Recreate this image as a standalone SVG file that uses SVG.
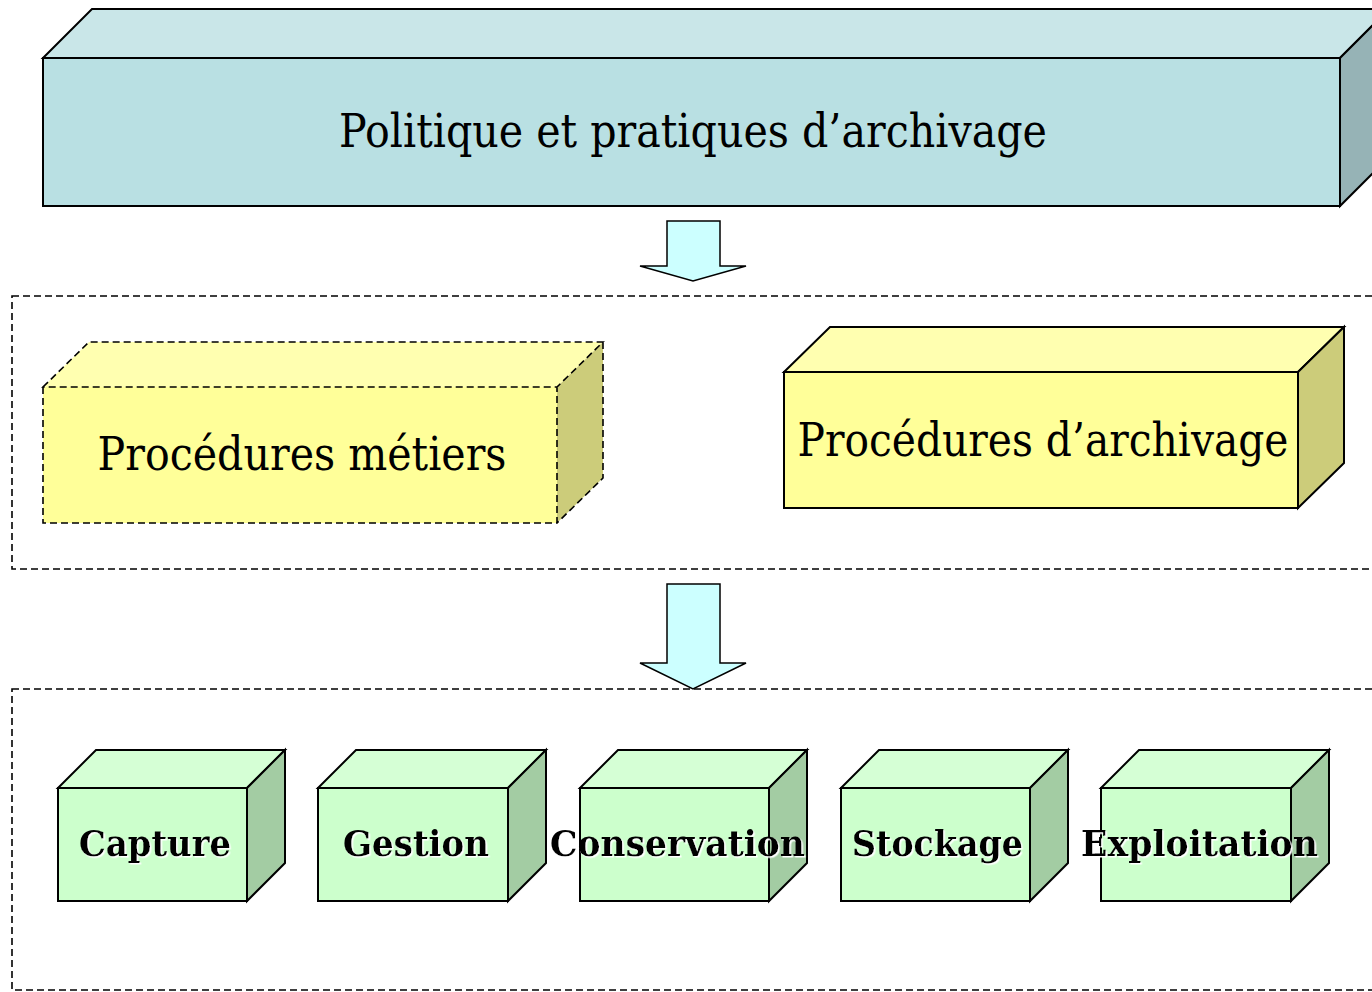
<svg xmlns="http://www.w3.org/2000/svg" width="1372" height="992" viewBox="0 0 1372 992">
<defs>
<style>
.edge{stroke:#000;stroke-width:2;stroke-linejoin:miter}
.dash{fill:none;stroke:#000;stroke-width:1.6;stroke-dasharray:7 4}
.t{font-family:"DejaVu Serif","Liberation Serif",serif;fill:#000}
.big{font-size:46px}
.bold{font-size:35px;font-weight:bold}
.arrow{fill:#ccffff;stroke:#000;stroke-width:1.5}
.bf{fill:#b9e0e3}.bt{fill:#c9e6e8}.bs{fill:#96b3b6}
.yf{fill:#ffff99}.yt{fill:#ffffb0}.ys{fill:#cccc7a}
.gf{fill:#ccffcc}.gt{fill:#d5ffd5}.gs{fill:#a3cca3}
</style>
<filter id="sh" x="-5%" y="-20%" width="110%" height="140%">
<feDropShadow dx="1.5" dy="1.5" stdDeviation="0.3" flood-color="#ffffff" flood-opacity="1"/>
</filter>
</defs>
<rect width="1372" height="992" fill="#fff"/>

<g id="containers">
<rect class="dash" x="12" y="296" width="1400" height="273"/>
<rect class="dash" x="12" y="689" width="1400" height="301"/>
</g>

<g id="politique">
<polygon class="bt edge" points="43,58 92,9 1389,9 1340,58"/>
<polygon class="bs edge" points="1340,58 1389,9 1389,157 1340,206"/>
<rect class="bf edge" x="43" y="58" width="1297" height="148"/>
<text class="t big" x="693" y="147" text-anchor="middle" textLength="708" lengthAdjust="spacingAndGlyphs">Politique et pratiques d’archivage</text>
</g>

<g id="metiers">
<polygon class="yt" points="43,387 89,342 603,342 557,387"/>
<polygon class="ys" points="557,387 603,342 603,478 557,523"/>
<rect class="yf" x="43" y="387" width="514" height="136"/>
<path class="dash" d="M43,387 L89,342 L603,342 L557,387 Z M603,342 L603,478 L557,523 M43,387 L43,523 L557,523 L557,387"/>
<text class="t big" x="302" y="470" text-anchor="middle" textLength="409" lengthAdjust="spacingAndGlyphs">Procédures métiers</text>
</g>

<g id="archivage">
<polygon class="yt edge" points="784,372 830,327 1344,327 1298,372"/>
<polygon class="ys edge" points="1298,372 1344,327 1344,463 1298,508"/>
<rect class="yf edge" x="784" y="372" width="514" height="136"/>
<text class="t big" x="1043" y="456" text-anchor="middle" textLength="491" lengthAdjust="spacingAndGlyphs">Procédures d’archivage</text>
</g>

<g id="capture">
<polygon class="gt edge" points="58,788 96,750 285,750 247,788"/>
<polygon class="gs edge" points="247,788 285,750 285,863 247,901"/>
<rect class="gf edge" x="58" y="788" width="189" height="113"/>
<text class="t bold" x="155" y="856" text-anchor="middle" textLength="152" lengthAdjust="spacingAndGlyphs" filter="url(#sh)">Capture</text>
</g>

<g id="gestion">
<polygon class="gt edge" points="318,788 356,750 546,750 508,788"/>
<polygon class="gs edge" points="508,788 546,750 546,863 508,901"/>
<rect class="gf edge" x="318" y="788" width="190" height="113"/>
<text class="t bold" x="416" y="856" text-anchor="middle" textLength="146" lengthAdjust="spacingAndGlyphs" filter="url(#sh)">Gestion</text>
</g>

<g id="conservation">
<polygon class="gt edge" points="580,788 618,750 807,750 769,788"/>
<polygon class="gs edge" points="769,788 807,750 807,863 769,901"/>
<rect class="gf edge" x="580" y="788" width="189" height="113"/>
<text class="t bold" x="677.5" y="856" text-anchor="middle" textLength="255" lengthAdjust="spacingAndGlyphs" filter="url(#sh)">Conservation</text>
</g>

<g id="stockage">
<polygon class="gt edge" points="841,788 879,750 1068,750 1030,788"/>
<polygon class="gs edge" points="1030,788 1068,750 1068,863 1030,901"/>
<rect class="gf edge" x="841" y="788" width="189" height="113"/>
<text class="t bold" x="937.5" y="856" text-anchor="middle" textLength="171" lengthAdjust="spacingAndGlyphs" filter="url(#sh)">Stockage</text>
</g>

<g id="exploitation">
<polygon class="gt edge" points="1101,788 1139,750 1329,750 1291,788"/>
<polygon class="gs edge" points="1291,788 1329,750 1329,863 1291,901"/>
<rect class="gf edge" x="1101" y="788" width="190" height="113"/>
<text class="t bold" x="1199.5" y="856" text-anchor="middle" textLength="237" lengthAdjust="spacingAndGlyphs" filter="url(#sh)">Exploitation</text>
</g>

<g id="connectors">
<polygon class="arrow" points="667,221 720,221 720,266 746,266 693,281 640,266 667,266"/>
<polygon class="arrow" points="667,584 720,584 720,663 746,663 693,689 640,663 667,663"/>
</g>
</svg>
